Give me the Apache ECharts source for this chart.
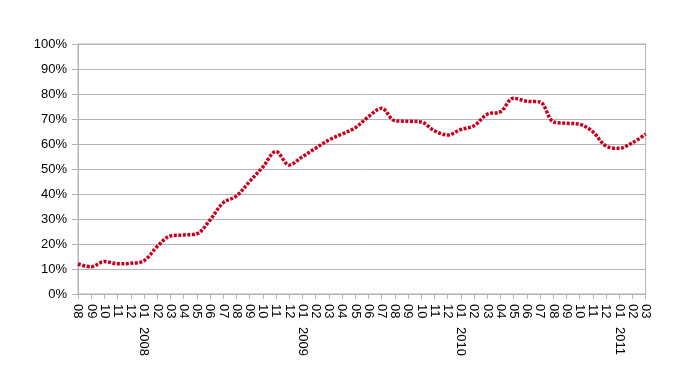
<!DOCTYPE html>
<html>
<head>
<meta charset="utf-8">
<script src="https://cdn.jsdelivr.net/npm/echarts@6/dist/echarts.min.js"></script>
<style>
html,body{margin:0;padding:0;background:#fff;}
#chart{width:681px;height:384px;}
</style>
</head>
<body>
<div id="chart"></div>
<script>
var months = ['08','09','10','11','12',
  '01','02','03','04','05','06','07','08','09','10','11','12',
  '01','02','03','04','05','06','07','08','09','10','11','12',
  '01','02','03','04','05','06','07','08','09','10','11','12',
  '01','02','03'];
var years = ['','','','','',
  '2008','','','','','','','','','','','',
  '2009','','','','','','','','','','','',
  '2010','','','','','','','','','','','',
  '2011','',''];
var values = [12.0, 10.9, 13.0, 12.1, 12.3,
  13.3, 19.0, 23.2, 23.6, 24.1, 29.6, 36.5, 39.2, 45.0, 50.8, 57.0, 51.6,
  54.9, 58.3, 61.6, 64.0, 66.5, 70.9, 74.3, 69.3, 69.1, 68.8, 65.3, 63.6,
  65.8, 67.3, 71.9, 72.9, 78.3, 77.1, 76.8, 68.9, 68.3, 67.9, 64.9, 59.2,
  58.3, 60.5, 64.0];
var yTickLabels = ['0%','10%','20%','30%','40%','50%','60%','70%','80%','90%','100%'];

var chart = echarts.init(document.getElementById('chart'));
var font = 'Liberation Sans, Arial, sans-serif';
chart.setOption({
  animation: false,
  grid: {left: 78, top: 44, width: 567.6, height: 250, show: true,
         borderColor: '#b3b3b3', borderWidth: 1, backgroundColor: 'transparent'},
  xAxis: [{
    type: 'category', data: months, boundaryGap: false, position: 'bottom',
    axisLine: {lineStyle: {color: '#b3b3b3'}},
    axisTick: {show: true, alignWithLabel: true, interval: 0, length: 5, lineStyle: {color: '#b3b3b3'}},
    axisLabel: {interval: 0, rotate: -90, margin: 10, color: '#000', fontSize: 13, fontFamily: font},
    splitLine: {show: false}
  }, {
    type: 'category', data: years, boundaryGap: false, position: 'bottom',
    axisLine: {show: false}, axisTick: {show: false},
    axisLabel: {interval: 0, rotate: -90, margin: 33, color: '#000', fontSize: 13, fontFamily: font},
    splitLine: {show: false}
  }],
  yAxis: {
    type: 'value', min: 0, max: 100, interval: 10,
    axisLine: {show: true, lineStyle: {color: '#b3b3b3'}},
    axisTick: {show: true, length: 6, lineStyle: {color: '#b3b3b3'}},
    axisLabel: {margin: 11, color: '#000', fontSize: 13, fontFamily: font,
      formatter: function (v) { return yTickLabels[Math.round(v / 10)]; }},
    splitLine: {show: true, lineStyle: {color: '#b3b3b3', width: 1}}
  },
  series: [{
    type: 'line', data: values, xAxisIndex: 0, smooth: 0.35, symbol: 'none',
    lineStyle: {color: '#c8001e', width: 3.5, type: [3, 1.5]}
  }]
});
</script>
</body>
</html>
